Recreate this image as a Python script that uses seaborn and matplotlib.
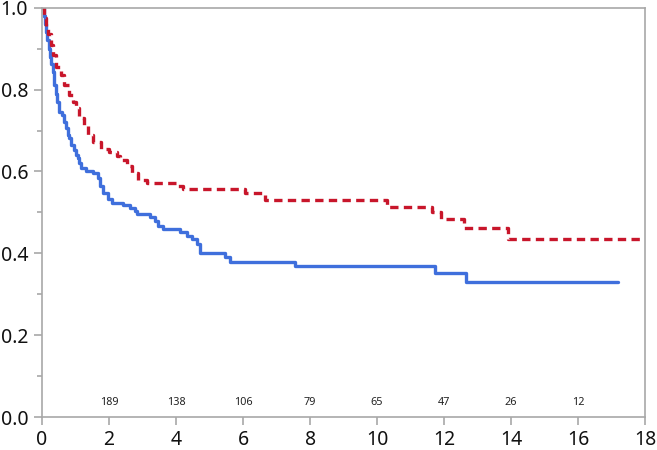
import pandas as pd
import numpy as np
import matplotlib.pyplot as plt
import seaborn as sns
import matplotlib.ticker as mticker

# step curve values (time, survival)
blue_t = [0, 0.05, 0.10, 0.12, 0.16, 0.20, 0.24, 0.27, 0.32, 0.35, 0.37, 0.42, 0.46, 0.52,
          0.61, 0.66, 0.71, 0.76, 0.81, 0.86, 0.96, 1.01, 1.06, 1.11, 1.16, 1.31, 1.51, 1.66,
          1.73, 1.83, 1.98, 2.08, 2.43, 2.63, 2.78, 2.83, 3.22, 3.37, 3.47, 3.62, 4.12, 4.32,
          4.47, 4.62, 4.72, 5.46, 5.60, 7.55, 11.73, 12.66, 17.2]
blue_s = [1.0, 0.98, 0.96, 0.94, 0.92, 0.90, 0.88, 0.863, 0.843, 0.825, 0.81, 0.79, 0.77, 0.746,
          0.737, 0.72, 0.705, 0.69, 0.681, 0.664, 0.652, 0.64, 0.632, 0.62, 0.608, 0.60, 0.596, 0.584,
          0.564, 0.548, 0.532, 0.522, 0.518, 0.511, 0.503, 0.495, 0.489, 0.479, 0.467, 0.459, 0.451, 0.443,
          0.435, 0.423, 0.402, 0.39, 0.38, 0.368, 0.351, 0.329, 0.329]

red_t = [0, 0.07, 0.12, 0.17, 0.27, 0.32, 0.42, 0.56, 0.66, 0.81, 0.91, 1.01, 1.11, 1.26, 1.36,
         1.51, 1.76, 2.00, 2.23, 2.33, 2.53, 2.67, 2.87, 3.12, 4.05, 4.22, 6.06, 6.65, 10.3,
         11.63, 11.9, 12.6, 13.9, 18.0]
red_s = [1.0, 0.975, 0.955, 0.935, 0.91, 0.885, 0.856, 0.836, 0.81, 0.786, 0.77, 0.754, 0.73, 0.713, 0.689,
         0.672, 0.656, 0.648, 0.637, 0.629, 0.613, 0.597, 0.58, 0.572, 0.565, 0.557, 0.547, 0.531, 0.514,
         0.50, 0.485, 0.463, 0.435, 0.435]

risk_x = [2, 4, 6, 8, 10, 12, 14, 16]
risk_n = [189, 138, 106, 79, 65, 47, 26, 12]

df = pd.concat([
    pd.DataFrame({"time": blue_t, "surv": blue_s, "group": "blue"}),
    pd.DataFrame({"time": red_t, "surv": red_s, "group": "red"}),
])

palette = {"blue": "#3f6fdc", "red": "#c8162b"}
dashes = {"blue": "", "red": (2.5, 1.6)}

sns.set_theme(style="white")
plt.rcParams['font.family'] = ['Noto Sans', 'DejaVu Sans']

fig = plt.figure(figsize=(6.57, 4.5), dpi=100)
ax = fig.add_axes([0.064, 0.073, 0.918, 0.91])

sns.lineplot(data=df, x="time", y="surv", hue="group", style="group", palette=palette,
             dashes=dashes, drawstyle="steps-post", estimator=None, linewidth=2.4,
             legend=False, ax=ax)
for ln in ax.get_lines():
    ln.set_dash_capstyle("butt")

for x, n in zip(risk_x, risk_n):
    ax.text(x, 0.035, str(n), ha="center", va="center", fontsize=7.8, color="#222222")

ax.set_xlim(0, 18)
ax.set_ylim(0, 1.0)
ax.set_xticks(range(0, 19, 2))
ax.set_yticks(np.arange(0, 1.01, 0.2))
ax.yaxis.set_major_formatter(mticker.FormatStrFormatter("%.1f"))
ax.yaxis.set_minor_locator(mticker.MultipleLocator(0.1))
ax.set_xlabel("")
ax.set_ylabel("")

for sp in ax.spines.values():
    sp.set_visible(True)
    sp.set_color("#a8a8a8")
    sp.set_linewidth(1.2)
ax.tick_params(which="major", length=6, width=1.2, color="#a8a8a8", labelsize=14,
               labelcolor="#111111", bottom=True, left=True, pad=4)
ax.tick_params(axis="x", which="major", pad=3)
ax.tick_params(axis="y", which="minor", length=3.5, width=1.2, color="#a8a8a8", left=True)

fig.savefig("out.png", dpi=100)
